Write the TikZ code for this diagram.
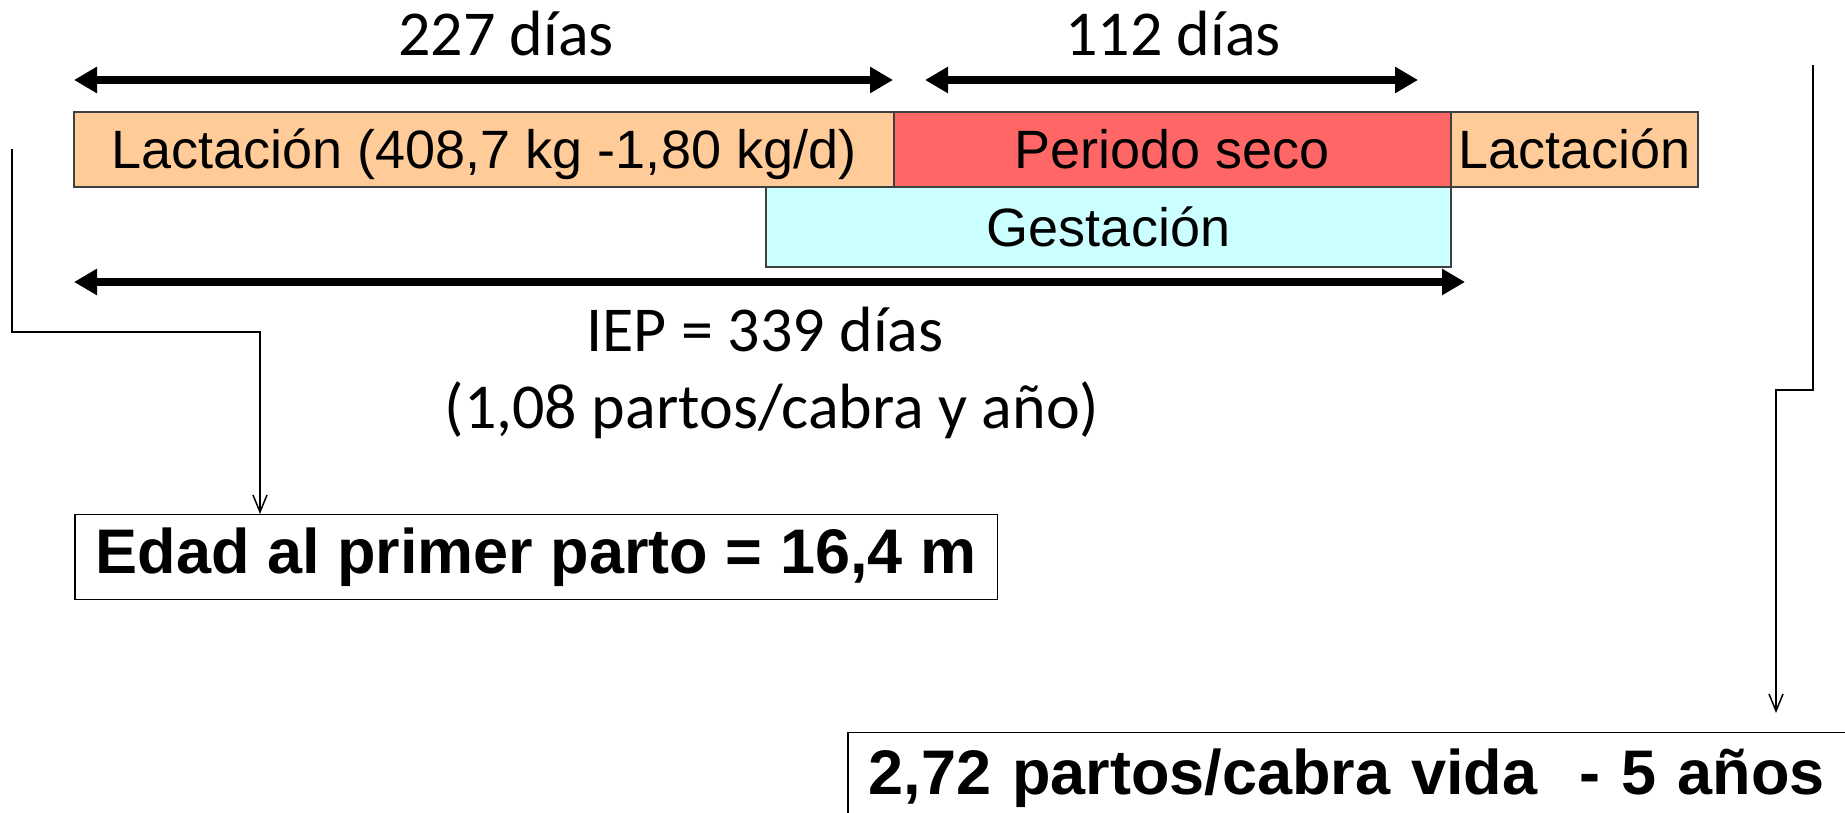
\documentclass[tikz,border=0pt]{standalone}
\usepackage{fontspec}
\setmainfont{Carlito}
\newfontfamily\arialfont{Liberation Sans}
\usetikzlibrary{arrows.meta, positioning}
\usepackage{xcolor}
\definecolor{peach}{RGB}{255,204,153}
\definecolor{lightred}{RGB}{255,102,102}
\definecolor{palecyan}{RGB}{204,255,255}
\tikzset{barnode/.style={rectangle, draw=black!75, line width=1.5pt, inner sep=0pt, outer sep=0pt,
    minimum height=75pt, text height=39pt, text depth=0pt, font=\arialfont\fontsize{54}{60}\selectfont},
daylabel/.style={font=\fontsize{64}{76}\selectfont, inner sep=0pt},
boldbox/.style={draw=black, line width=1.5pt, inner xsep=21pt, font=\arialfont\bfseries\fontsize{63}{72}\selectfont}}

\begin{document}
\begin{tikzpicture}[
        line join=miter,
        dimarrow/.style={line width=8pt, {Triangle[length=23pt, width=25pt]}-{Triangle[length=23pt, width=25pt]}},
        conn/.style={line width=1.5pt, -{Straight Barb[length=17pt, width=14pt]}}
    ]
        \useasboundingbox (0pt, 0pt) rectangle (1845pt, 813pt);
        % Bars
        \node[barnode, fill=peach, minimum width=820pt, anchor=north west] (lact1) at (74pt, 701pt) {Lactación (408,7 kg -1,80 kg/d)};
        \node[barnode, fill=lightred, minimum width=557pt, right=0pt of lact1] (seco) {Periodo seco};
        \node[barnode, fill=peach, minimum width=247pt, right=0pt of seco] (lact2) {Lactación};
        \node[barnode, fill=palecyan, minimum width=685pt, minimum height=80pt, below left=0pt of seco.south east] (gest) {Gestación};
        % Day arrows
        \coordinate (a227l) at (74pt, 733pt);
        \coordinate (a227r) at (893pt, 733pt);
        \coordinate (a112l) at (925pt, 733pt);
        \coordinate (a112r) at (1418pt, 733pt);
        \coordinate (aiepl) at (74pt, 531pt);
        \coordinate (aiepr) at (1465pt, 531pt);
        \draw[dimarrow] (a227l) -- (a227r);
        \draw[dimarrow] (a112l) -- (a112r);
        \draw[dimarrow] (aiepl) -- (aiepr);
        % Labels
        \node[daylabel, anchor=base] (d227) at (506pt, 757pt) {227 días};
        \node[daylabel, anchor=base] (d112) at (1173pt, 757pt) {112 días};
        \node[daylabel, anchor=base] (iep) at (765pt, 461pt) {IEP = 339 días};
        \node[daylabel, anchor=base] (rate) at (772pt, 384pt) {(1,08 partos/cabra y año)};
        % Boxes
        \node[boldbox, anchor=north west, minimum height=85pt] (edad) at (74pt, 299pt) {Edad al primer parto = 16,4 m};
        \node[boldbox, anchor=north west, text width=1010pt, align=left, inner ysep=17pt,
            text height=45pt, text depth=15pt] (parto) at (847pt, 81pt) {2,72 partos/cabra vida~~- 5 años};
        % Connectors
        \coordinate (startL) at (12pt, 664pt);
        \coordinate (bendL) at (260pt, 481pt);
        \draw[conn] (startL) |- (bendL) -- (bendL |- edad.north);
        \coordinate (startR) at (1813pt, 748pt);
        \coordinate (bendR) at (1776pt, 423pt);
        \draw[conn, shorten >=19pt] (startR) |- (bendR) -- (bendR |- parto.north);
    \end{tikzpicture}
\end{document}
